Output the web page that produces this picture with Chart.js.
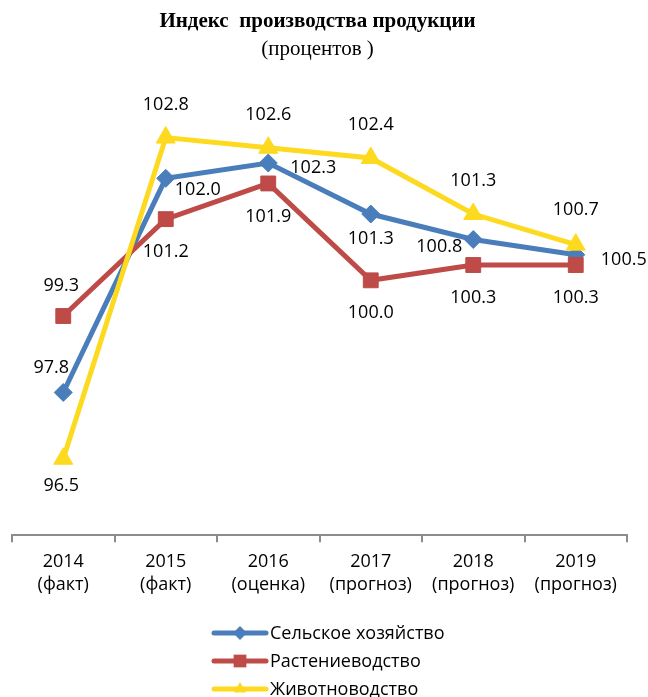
<!DOCTYPE html>
<html><head><meta charset="utf-8">
<script src="https://cdn.jsdelivr.net/npm/chart.js@4.4.0/dist/chart.umd.min.js"></script>
<style>html,body{margin:0;padding:0;background:#fff}#wrap{width:648px;height:697px;position:relative}</style>
</head><body><div id="wrap"><canvas id="c"></canvas></div>
<script>
const categories = [['2014','(факт)'],['2015','(факт)'],['2016','(оценка)'],['2017','(прогноз)'],['2018','(прогноз)'],['2019','(прогноз)']];
const seriesNames = ['Сельское хозяйство','Растениеводство','Животноводство'];
const agriculture = [97.8,102.0,102.3,101.3,100.8,100.5];
const crops = [99.3,101.2,101.9,100.0,100.3,100.3];
const livestock = [96.5,102.8,102.6,102.4,101.3,100.7];
const chartTitle = 'Индекс  производства продукции';
const chartSubtitle = '(процентов )';

// label placement offsets (style only)
const labelOffsets = [
  [[-12,-25],[32,12],[45,5],[0,25],[-34,7],[48,5]],
  [[-2,-30],[0,33],[0,33],[0,33],[0,33],[0,33]],
  [[-2,27],[0,-33],[0,-33],[0,-33],[0,-33],[0,-35]]
];
const colors = ['#4A7EBB','#BE4B48','#FDD91F'];
const FONT = "'Open Sans', sans-serif";

const dataLabels = {
  id:'dataLabels',
  afterDatasetsDraw(chart){
    const ctx = chart.ctx;
    ctx.save();
    ctx.font = '18px ' + FONT;
    ctx.fillStyle = '#000';
    ctx.textAlign = 'center';
    ctx.textBaseline = 'middle';
    chart.data.datasets.forEach((ds, di) => {
      const meta = chart.getDatasetMeta(di);
      meta.data.forEach((el, i) => {
        const off = labelOffsets[di][i];
        ctx.fillText(ds.data[i].toFixed(1), el.x + off[0], el.y + off[1]);
      });
    });
    ctx.restore();
  }
};

function marker(ctx, style, x, y, r){
  ctx.beginPath();
  if (style === 'rectRot'){
    ctx.moveTo(x, y - r); ctx.lineTo(x + r, y); ctx.lineTo(x, y + r); ctx.lineTo(x - r, y);
  } else if (style === 'rect'){
    const s = r * Math.SQRT1_2;
    ctx.rect(x - s, y - s, 2*s, 2*s);
  } else {
    ctx.moveTo(x, y - r); ctx.lineTo(x + r*0.866, y + r*0.5); ctx.lineTo(x - r*0.866, y + r*0.5);
  }
  ctx.closePath();
  ctx.fill();
}

const customLegend = {
  id:'customLegend',
  afterDraw(chart){
    const ctx = chart.ctx;
    ctx.save();
    const rows = [633, 661, 689];
    chart.data.datasets.forEach((ds, di) => {
      const y = rows[di];
      ctx.strokeStyle = ds.borderColor;
      ctx.fillStyle = ds.borderColor;
      ctx.lineWidth = 5;
      ctx.lineCap = 'round';
      ctx.beginPath(); ctx.moveTo(214, y); ctx.lineTo(266, y); ctx.stroke();
      marker(ctx, ds.pointStyle, 240, y, ds.pointStyle === 'rect' ? 9 : 7);
      ctx.fillStyle = '#000';
      ctx.font = '18px ' + FONT;
      ctx.textAlign = 'left';
      ctx.textBaseline = 'middle';
      ctx.fillText(ds.label, 270, y + 1);
    });
    ctx.restore();
  }
};

const series = [agriculture, crops, livestock];
const styles = ['rectRot','rect','triangle'];
const radii = [9, 10.5, 11];
const orders = [3, 2, 1];

new Chart(document.getElementById('c'), {
  type:'line',
  data:{
    labels: categories,
    datasets: series.map((d, i) => ({
      label: seriesNames[i],
      data: d,
      borderColor: colors[i],
      backgroundColor: colors[i],
      pointBackgroundColor: colors[i],
      pointBorderColor: colors[i],
      borderWidth: 5,
      pointStyle: styles[i],
      pointRadius: radii[i],
      pointBorderWidth: 1,
      tension: 0,
      order: orders[i]
    }))
  },
  options:{
    responsive:true,
    maintainAspectRatio:false,
    animation:false,
    layout:{ padding:{ left:8, right:21, top:0, bottom:92 } },
    plugins:{
      legend:{ display:false },
      tooltip:{ enabled:false },
      title:{ display:true, text: chartTitle, color:'#000',
        font:{ family:"'Liberation Serif', serif", size:21, weight:'bold' },
        padding:{ top:9, bottom:0 } },
      subtitle:{ display:true, text: chartSubtitle, color:'#000',
        font:{ family:"'Liberation Serif', serif", size:21, weight:'normal' },
        padding:{ top:3, bottom:14 } }
    },
    scales:{
      x:{
        offset:true,
        grid:{ offset:true, drawOnChartArea:false, drawTicks:true, tickLength:7, color:'#8C8C8C', lineWidth:2 },
        border:{ display:true, color:'#8C8C8C', width:2 },
        ticks:{ color:'#000', font:{ family:FONT, size:18, lineHeight:1.3 }, padding:8, maxRotation:0, autoSkip:false }
      },
      y:{ display:false, min:95, max:104 }
    }
  },
  plugins:[dataLabels, customLegend]
});
</script>
</body></html>
